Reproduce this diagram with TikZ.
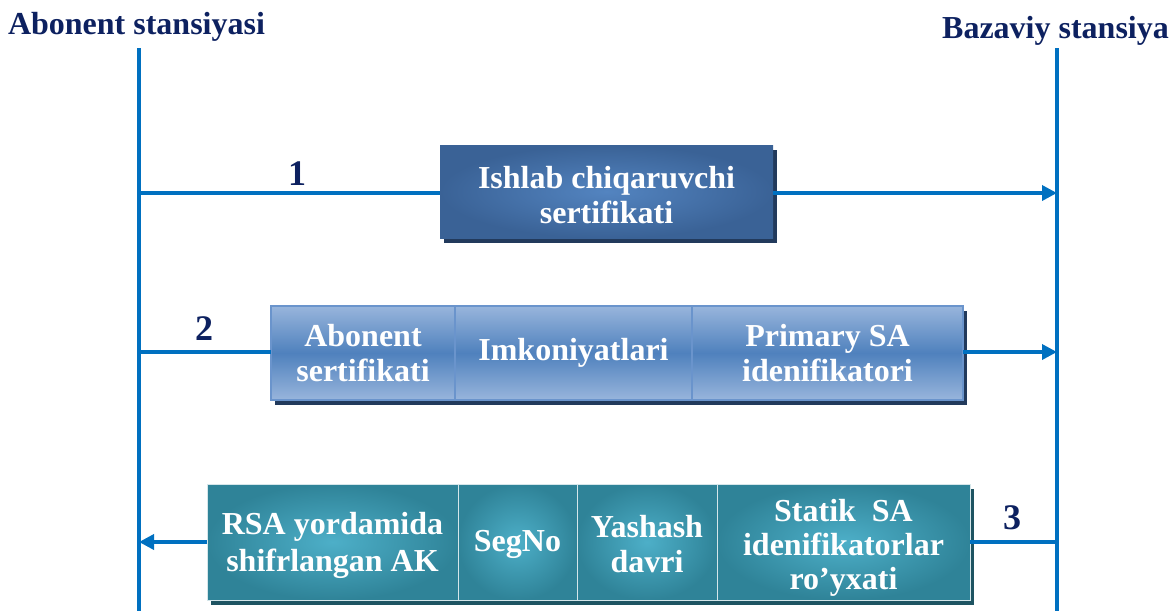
\documentclass[tikz,border=0pt]{standalone}
\usepackage{fontspec}
\setmainfont{Liberation Serif}
\usetikzlibrary{arrows.meta,shadows}
\definecolor{lineblue}{HTML}{0070C0}
\definecolor{navy}{HTML}{0D2160}
\definecolor{boxAin}{HTML}{5384C0}
\definecolor{boxAout}{HTML}{3A6296}
\definecolor{boxBlight}{HTML}{98B5DC}
\definecolor{boxBmid}{HTML}{4F81BD}
\definecolor{boxBdraw}{HTML}{6A94CC}
\definecolor{boxCin}{HTML}{4DAFC8}
\definecolor{boxCout}{HTML}{2F8398}
\definecolor{shadA}{HTML}{223A5C}
\definecolor{shadC}{HTML}{1E5462}
\newcommand{\lift}[1]{\rule{0pt}{#1}}
\tikzset{
  vline/.style={draw=lineblue, line width=3.5pt},
  conn/.style={draw=lineblue, line width=3.5pt},
  arr/.style={-{Triangle[length=15pt,width=15pt]}},
  head/.style={text=navy, font=\fontsize{32}{35}\selectfont\bfseries, inner sep=0pt, anchor=base},
  num/.style={text=navy, font=\fontsize{36}{40}\selectfont\bfseries, inner sep=0pt, anchor=base},
  cellbase/.style={inner sep=0pt, outer sep=0pt, align=center, text=white,
    font=\fontsize{32}{35}\selectfont\bfseries},
  boxA/.style={cellbase, shading=radial, inner color=boxAin, outer color=boxAout,
    drop shadow={shadow xshift=4pt, shadow yshift=-5pt, fill=shadA, opacity=1}},
  boxB/.style={cellbase, top color=boxBlight, bottom color=boxBlight, middle color=boxBmid,
    draw=boxBdraw, line width=1.5pt,
    drop shadow={shadow xshift=4pt, shadow yshift=-5pt, fill=shadA, opacity=1}},
  boxC/.style={cellbase, shading=radial, inner color=boxCin, outer color=boxCout,
    draw=white!80!boxCout, line width=1pt,
    drop shadow={shadow xshift=4pt, shadow yshift=-5pt, fill=shadC, opacity=1}},
}
\begin{document}
\begin{tikzpicture}[x=1pt,y=-1pt]
\useasboundingbox (0,0) rectangle (1172,611);
% headings
\node[head] (hA) at (136.5,34) {Abonent stansiyasi};
\node[head] (hB) at (1055.5,38) {Bazaviy stansiya};
% life lines
\coordinate (LT) at (139,48);
\coordinate (LB) at (139,611);
\coordinate (RT) at (1057,48);
\coordinate (RB) at (1057,611);
\draw[vline] (LT) -- (LB);
\draw[vline] (RT) -- (RB);
% row 1
\coordinate (L1) at (139,193);
\coordinate (R1) at (1057,193);
\node[boxA, minimum width=333pt, minimum height=93pt] (b1) at (606.5,191.5)
  {\lift{29pt}Ishlab chiqaruvchi\\sertifikati};
\draw[conn] (L1) -- (L1 -| b1.west);
\draw[conn,arr] (R1 -| b1.east) -- (R1);
\node[num] (n1) at (297,185) {1};
% row 2
\coordinate (L2) at (139,352);
\coordinate (R2) at (1057,352);
\node[boxB, minimum width=184pt, minimum height=94pt] (c21) at (363,353) {Abonent\\sertifikati};
\node[boxB, minimum width=237pt, minimum height=94pt] (c22) at (573.5,353) {Imkoniyatlari};
\node[boxB, minimum width=271pt, minimum height=94pt] (c23) at (827.5,353) {Primary SA\\idenifikatori};
\draw[conn] (L2) -- (L2 -| c21.west);
\draw[conn,arr] (R2 -| c23.east) -- (R2);
\node[num] (n2) at (204,340) {2};
% row 3
\coordinate (L3) at (139,542);
\coordinate (R3) at (1057,542);
\node[boxC, minimum width=251pt, minimum height=116pt] (c31) at (332.5,542) {\lift{30pt}RSA yordamida\\[2pt]shifrlangan AK};
\node[boxC, minimum width=119pt, minimum height=116pt] (c32) at (517.5,542) {\lift{27pt}SegNo};
\node[boxC, minimum width=140pt, minimum height=116pt] (c33) at (647,542) {\lift{27pt}Yashash\\davri};
\node[boxC, minimum width=253pt, minimum height=116pt] (c34) at (843.5,542) {\lift{34pt}Statik\ \ SA\\[-1pt]idenifikatorlar\\[-1pt]ro’yxati};
\draw[conn] (R3) -- (R3 -| c34.east);
\draw[conn,arr] (L3 -| c31.west) -- (L3);
\node[num] (n3) at (1012,529) {3};
\end{tikzpicture}
\end{document}
